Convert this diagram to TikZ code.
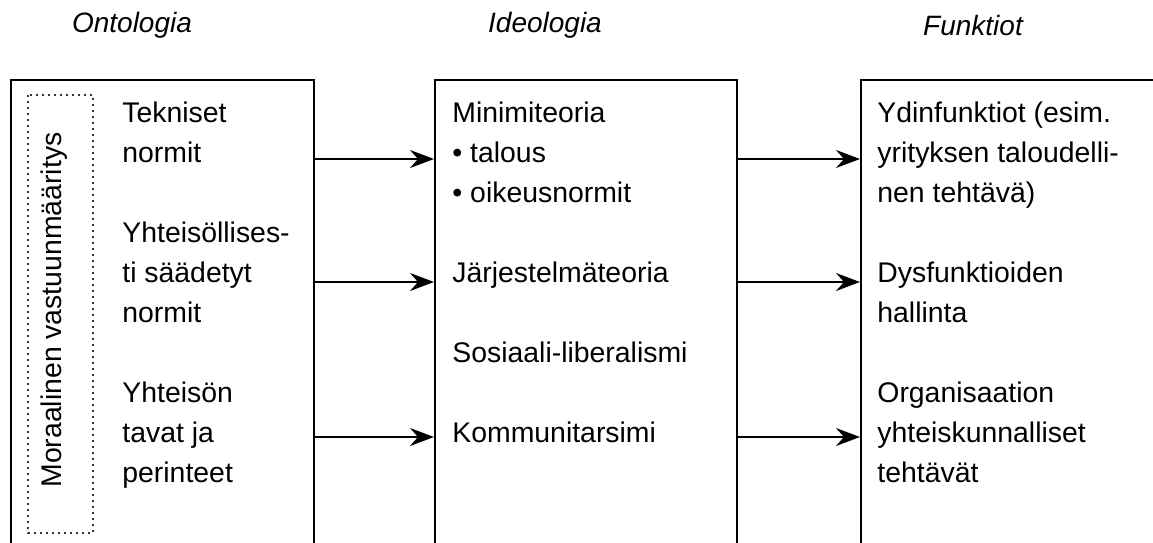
\documentclass[tikz,border=0pt]{standalone}
\usepackage{fontspec}
\setmainfont{Liberation Sans}
\usetikzlibrary{arrows.meta,positioning}

\tikzset{
  column/.style={draw, line width=1pt, anchor=north west, inner sep=0pt, minimum height=262pt},
  entry/.style={anchor=base west, align=left, inner sep=0pt, font=\fontsize{14.2}{20}\selectfont},
  heading/.style={inner sep=0pt, font=\fontsize{14}{20}\selectfont\itshape},
  frame/.style={draw=black!80, line width=0.8pt, dash pattern=on 0.8pt off 2.2pt},
  link/.style={-{Stealth[length=12pt,width=9pt,inset=4pt]}, line width=0.9pt},
}

\begin{document}
\begin{tikzpicture}[x=0.5pt,y=-0.5pt]
    \useasboundingbox (0,0) rectangle (1153,542);
    \clip (0,0) rectangle (1153,542);
    % headings
    \node[heading] (hont) at (132,25) {Ontologia};
    \node[heading] (hide) at (545,25) {Ideologia};
    \node[heading] (hfun) at (973,25) {Funktiot};
    % the three columns
    \node[column, minimum width=151.5pt] (onto) at (10,79) {};
    \node[column, minimum width=151pt] (ideo) at (434,79) {};
    \node[column, minimum width=160pt] (funk) at (860,79) {};
    % ontologia (base = last line)
    \draw[frame] (28,95) rectangle (93,533);
    \node[entry, anchor=center, rotate=90] (moral) at (54,310) {Moraalinen vastuunmääritys};
    \node[entry] (tekn) at (122,162) {Tekniset\\normit};
    \node[entry] (yhts) at (122,322) {Yhteisöllises-\\ti säädetyt\\normit};
    \node[entry] (tavat) at (122,482) {Yhteisön\\tavat ja\\perinteet};
    % ideologia
    \node[entry] (mini) at (452,202) {Minimiteoria\\• talous\\• oikeusnormit};
    \node[entry] (jarj) at (452,282) {Järjestelmäteoria};
    \node[entry] (sosl) at (452,362) {Sosiaali-liberalismi};
    \node[entry] (komm) at (452,442) {Kommunitarsimi};
    % funktiot
    \node[entry] (ydin) at (877,202) {Ydinfunktiot (esim.\\yrityksen taloudelli-\\nen tehtävä)};
    \node[entry] (dysf) at (877,322) {Dysfunktioiden\\hallinta};
    \node[entry] (orgs) at (877,482) {Organisaation\\yhteiskunnalliset\\tehtävät};
    % arrows
    \coordinate (r1) at (0,159);
    \coordinate (r2) at (0,282);
    \coordinate (r3) at (0,437);
    \foreach \r in {r1,r2,r3}{
        \draw[link] (onto.east |- \r) -- (ideo.west |- \r);
        \draw[link] (ideo.east |- \r) -- (funk.west |- \r);
    }
\end{tikzpicture}
\end{document}
